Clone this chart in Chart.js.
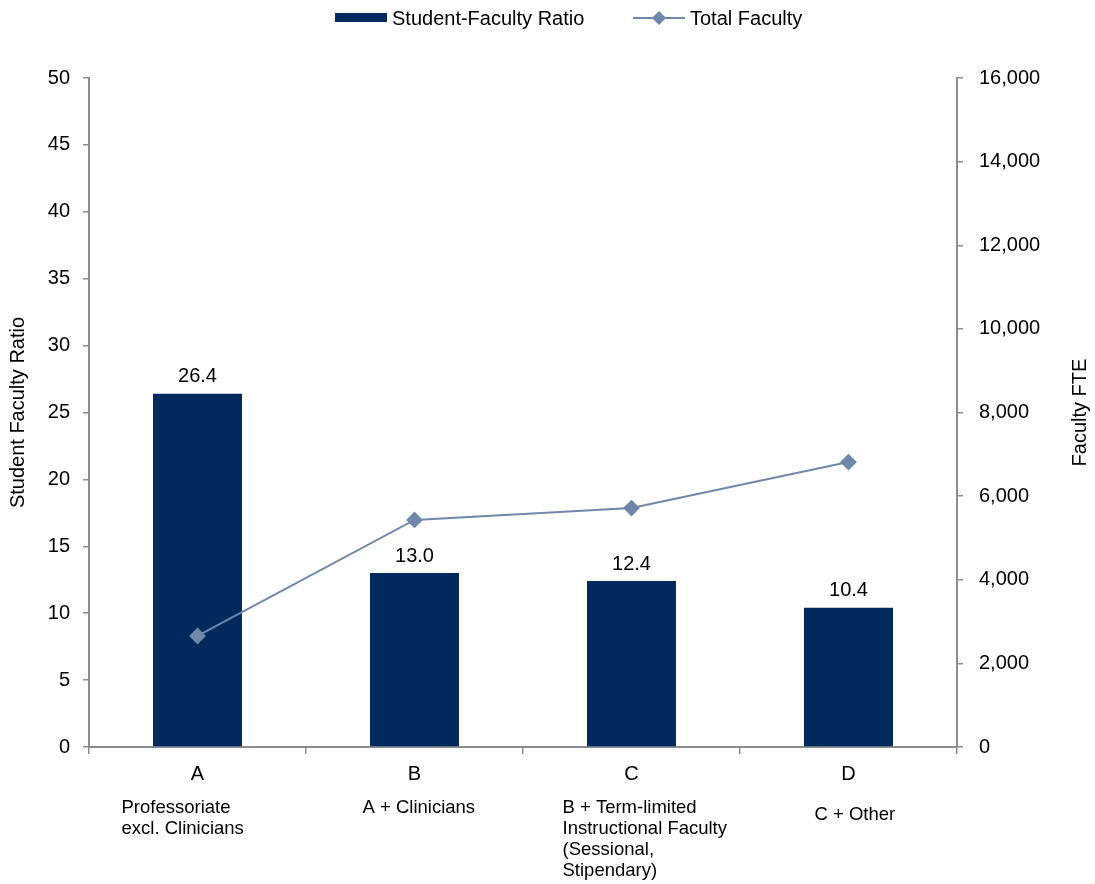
<!DOCTYPE html>
<html>
<head>
<meta charset="utf-8">
<script src="https://cdn.jsdelivr.net/npm/chart.js@4/dist/chart.umd.min.js"></script>
<style>
  html, body { margin: 0; padding: 0; background: #fff; }
  #wrap { position: relative; width: 1095px; height: 884px; }
  #legend { position: absolute; top: 0; left: 0; width: 1095px; height: 36px;
    font-family: "Liberation Sans", Arial, sans-serif; font-size: 20px; color: #000; }
  .item { position: absolute; top: 6px; height: 24px; line-height: 24px; white-space: nowrap; }
  .box { position: absolute; top: 7px; left: 0; width: 52px; height: 9px; }
  .ln { position: absolute; top: 11px; left: 0; width: 52px; height: 2px; }
  .dia { position: absolute; top: 7px; left: 21px; width: 10px; height: 10px; transform: rotate(45deg); }
  .txt { position: absolute; left: 57px; top: 0; }
</style>
</head>
<body>
<div id="wrap">
  <canvas id="chart" width="1095" height="884"></canvas>
  <div id="legend"></div>
</div>
<script>
const categories = ['A', 'B', 'C', 'D'];
const categoryNotes = [
    ['Professoriate', 'excl. Clinicians'],
    ['A + Clinicians'],
    ['B + Term-limited', 'Instructional Faculty', '(Sessional,', 'Stipendary)'],
    ['C + Other']
];
const studentFacultyRatio = [26.4, 13.0, 12.4, 10.4];
const totalFaculty = [2655, 5430, 5715, 6815];

const navy = '#002a5c';
const steel = '#6f88a9';
const axisGrey = '#8c8c8c';
const font = '"Liberation Sans", Arial, sans-serif';

// value labels above bars
const barLabels = {
    id: 'barLabels',
    afterDatasetsDraw(chart) {
        const ctx = chart.ctx;
        const meta = chart.getDatasetMeta(0);
        ctx.save();
        ctx.font = '20px ' + font;
        ctx.fillStyle = '#000';
        ctx.textAlign = 'center';
        ctx.textBaseline = 'bottom';
        meta.data.forEach((bar, i) => {
            ctx.fillText(studentFacultyRatio[i].toFixed(1), bar.x, bar.y - 7);
        });
        ctx.restore();
    }
};

// notes under the category letters + right axis title
const notes = {
    id: 'notes',
    afterDraw(chart) {
        const ctx = chart.ctx;
        const x = chart.scales.x;
        const shifts = [-76, -52, -69, -34];
        const tops = [808, 808, 808, 815];
        ctx.save();
        ctx.font = '18.5px ' + font;
        ctx.fillStyle = '#000';
        ctx.textAlign = 'left';
        ctx.textBaseline = 'middle';
        categoryNotes.forEach((lines, i) => {
            const cx = x.getPixelForValue(i);
            lines.forEach((line, j) => {
                ctx.fillText(line, cx + shifts[i], tops[i] + j * 21);
            });
        });

        const area = chart.chartArea;
        ctx.font = '20px ' + font;
        ctx.textAlign = 'center';
        ctx.translate(1080, (area.top + area.bottom) / 2);
        ctx.rotate(-Math.PI / 2);
        ctx.fillText('Faculty FTE', 0, 0);
        ctx.restore();
    }
};

const ctx = document.getElementById('chart').getContext('2d');
const chart = new Chart(ctx, {
    type: 'bar',
    data: {
        labels: categories,
        datasets: [{
            type: 'bar',
            label: 'Student-Faculty Ratio',
            data: studentFacultyRatio,
            backgroundColor: navy,
            yAxisID: 'y',
            categoryPercentage: 1,
            barPercentage: 0.41,
            order: 2
        }, {
            type: 'line',
            label: 'Total Faculty',
            data: totalFaculty,
            borderColor: steel,
            backgroundColor: steel,
            borderWidth: 2,
            pointStyle: 'rectRot',
            pointRadius: 7,
            pointHoverRadius: 7,
            yAxisID: 'y1',
            tension: 0,
            order: 1
        }]
    },
    options: {
        responsive: false,
        animation: false,
        layout: { padding: { top: 78, left: 0, right: 0, bottom: 0 } },
        plugins: {
            legend: { display: false },
            tooltip: { enabled: false }
        },
        scales: {
            x: {
                afterFit(scale) { scale.height = 137; },
                grid: { offset: true, drawOnChartArea: false, tickLength: 7, color: axisGrey, lineWidth: 1.5 },
                border: { color: axisGrey, width: 2 },
                ticks: { color: '#000', font: { family: font, size: 20 }, padding: 8 }
            },
            y: {
                position: 'left',
                min: 0,
                max: 50,
                afterFit(scale) { scale.width = 89; },
                grid: { drawOnChartArea: false, tickLength: 6, color: axisGrey, lineWidth: 1.5 },
                border: { color: axisGrey, width: 2 },
                ticks: { stepSize: 5, color: '#000', font: { family: font, size: 20 }, padding: 13 },
                title: {
                    display: true,
                    text: 'Student Faculty Ratio',
                    color: '#000',
                    font: { family: font, size: 20 },
                    padding: { top: 6, bottom: 0 }
                }
            },
            y1: {
                position: 'right',
                min: 0,
                max: 16000,
                afterFit(scale) { scale.width = 138; },
                grid: { drawOnChartArea: false, tickLength: 6, color: axisGrey, lineWidth: 1.5 },
                border: { color: axisGrey, width: 2 },
                ticks: {
                    stepSize: 2000,
                    color: '#000',
                    font: { family: font, size: 20 },
                    padding: 16,
                    callback: v => v.toLocaleString('en-US')
                }
            }
        }
    },
    plugins: [barLabels, notes]
});

// legend built from the datasets
const legendEl = document.getElementById('legend');
const legendLeft = [335, 633];
chart.data.datasets.forEach((ds, i) => {
    const item = document.createElement('div');
    item.className = 'item';
    item.style.left = legendLeft[i] + 'px';
    if (ds.type === 'bar') {
        item.innerHTML = '<div class="box" style="background:' + ds.backgroundColor + '"></div>';
    } else {
        item.innerHTML = '<div class="ln" style="background:' + ds.borderColor + '"></div>' +
            '<div class="dia" style="background:' + ds.backgroundColor + '"></div>';
    }
    const txt = document.createElement('span');
    txt.className = 'txt';
    txt.textContent = ds.label;
    item.appendChild(txt);
    legendEl.appendChild(item);
});
</script>
</body>
</html>
